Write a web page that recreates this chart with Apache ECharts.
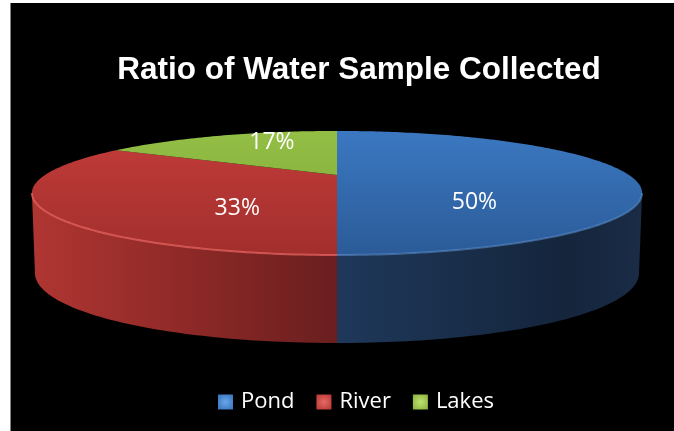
<!DOCTYPE html>
<html><head><meta charset="utf-8">
<script src="https://cdn.jsdelivr.net/npm/echarts@6/dist/echarts.min.js"></script>
<style>
html,body{margin:0;padding:0;background:#fff;width:674px;height:431px;overflow:hidden}
#frame{position:absolute;left:10px;top:3px;width:663px;height:428px;background:#000;border-left:1px solid #808080}
#chart{position:absolute;left:0;top:0;width:674px;height:431px}
</style></head><body>
<div id="frame"></div><div id="chart"></div>
<script>
// ---- data ----
const chartTitle = 'Ratio of Water Sample Collected';
const categories = ['Pond', 'River', 'Lakes'];
const values = [3, 2, 1];

// ---- styles ----
const topColors = [['#3b78c1', '#2b5b98'], ['#c23c39', '#a22f2d'], ['#93bf45', '#7ca63a']];
const sideColors = [
  [[0, '#1f385a'], [0.75, '#14253c'], [1, '#1a2c46']],
  [[0, '#b03632'], [0.5, '#8e2927'], [1, '#6a1e1f']],
  [[0, '#6f8f2e'], [1, '#5a7626']]
];
const rimColors = ['rgba(95,145,210,0.55)', 'rgba(232,100,96,0.75)', 'rgba(180,220,110,0.6)'];
const legendColors = [['#6aa6ea', '#2f6db5'], ['#e46a66', '#b3312e'], ['#bfe070', '#84ad37']];
const labelNudge = [[6, 27], [22, 20], [-6, -13]];

const total = values.reduce((a, b) => a + b, 0);
const starts = [];
let acc = 0;
values.forEach(v => { starts.push(acc / total * 360); acc += v; });

function geo(api) {
  const W = api.getWidth(), H = api.getHeight();
  return {
    cx: W * 0.5, cy: H * 0.406, a: W * 0.4332, b: H * 0.1318, p: -0.29,
    d0: H * 0.178, d1: H * 0.0262
  };
}
function proj(g, theta, r, down) {
  const t = theta * Math.PI / 180;
  const u = Math.sin(t) * r, v = -Math.cos(t) * r;
  const d = 1 + g.p * v;
  let x = g.a * u / d, y = g.b * v / d;
  if (down) { x *= 0.99; y += g.d0 + g.d1 * v; }
  return [g.cx + x, g.cy + y];
}
function arc(g, s, e, down) {
  const pts = [];
  const n = Math.max(2, Math.ceil(Math.abs(e - s)));
  for (let k = 0; k <= n; k++) pts.push(proj(g, s + (e - s) * k / n, 1, down));
  return pts;
}

function renderItem(params, api) {
  const i = params.seriesIndex;
  const g = geo(api);
  const s = starts[i];
  const e = s + api.value(0) / total * 360;
  const children = [];
  const tA = Math.acos(g.p) * 180 / Math.PI, tB = 360 - tA;
  const lo = Math.max(s, tA), hi = Math.min(e, tB);
  if (hi > lo) {
    const topArc = arc(g, lo, hi, false);
    const botArc = arc(g, hi, lo, true);
    children.push({
      type: 'polygon', z2: 1,
      shape: { points: topArc.concat(botArc) },
      style: { fill: { type: 'linear', x: 0, y: 0, x2: 1, y2: 0,
        colorStops: sideColors[i].map(c => ({ offset: c[0], color: c[1] })) } }
    });
    children.push({
      type: 'polyline', z2: 15,
      shape: { points: topArc },
      style: { stroke: rimColors[i], lineWidth: 2, fill: null }
    });
  }
  const yTop = g.cy - g.b / (1 - g.p), yBot = g.cy + g.b / (1 + g.p);
  children.push({
    type: 'polygon', z2: 10,
    shape: { points: [proj(g, 0, 0, false)].concat(arc(g, s, e, false)) },
    style: { fill: { type: 'linear', x: 0, y: yTop, x2: 0, y2: yBot, global: true,
      colorStops: [{ offset: 0, color: topColors[i][0] }, { offset: 1, color: topColors[i][1] }] } }
  });
  const mid = (s + e) / 2;
  const lp = proj(g, mid, 0.45, false);
  const pct = Math.round(api.value(0) / total * 100) + '%';
  children.push({
    type: 'text', z2: 20,
    style: { text: pct, x: lp[0] + labelNudge[i][0], y: lp[1] + labelNudge[i][1],
      fill: '#ffffff', font: '23px "Open Sans"', align: 'center', verticalAlign: 'middle' }
  });
  return { type: 'group', children };
}

const chart = echarts.init(document.getElementById('chart'), null, { renderer: 'canvas' });
chart.setOption({
  backgroundColor: 'transparent',
  animation: false,
  title: {
    text: chartTitle, left: 354, top: 49, textAlign: 'center',
    textStyle: { color: '#ffffff', fontSize: 31.5, fontWeight: 'bold', fontFamily: '"Liberation Sans", Arial, sans-serif' }
  },
  legend: {
    data: categories.map((c, i) => ({
      name: c, icon: 'rect',
      itemStyle: { color: { type: 'radial', x: 0.5, y: 0.5, r: 0.75,
        colorStops: [{ offset: 0, color: legendColors[i][0] }, { offset: 1, color: legendColors[i][1] }] } }
    })),
    left: 213, top: 386, itemWidth: 15, itemHeight: 15, itemGap: 22, selectedMode: false,
    textStyle: { color: '#ffffff', fontSize: 22, fontFamily: '"Open Sans", sans-serif', padding: [0, 0, 0, 3] }
  },
  series: categories.map((c, i) => ({
    type: 'custom', name: c, coordinateSystem: 'none', silent: true,
    itemStyle: { color: topColors[i][0] },
    data: [values[i]],
    renderItem
  }))
});
</script>
</body></html>
